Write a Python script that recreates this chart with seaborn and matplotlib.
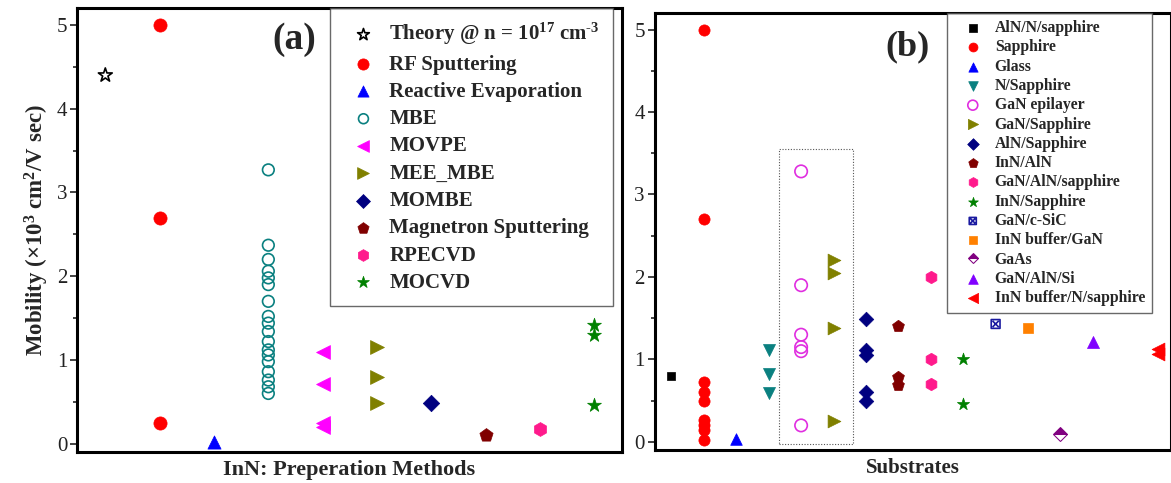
import numpy as np
import pandas as pd
import seaborn as sns
import matplotlib
matplotlib.use("Agg")
import matplotlib.pyplot as plt
from matplotlib.path import Path
from matplotlib.patches import Rectangle

# ---------------- data: panel (a) ----------------
methods = ["Theory @ n = 10$^{17}$ cm$^{\\text{-}3}$", "RF Sputtering", "Reactive Evaporation",
           "MBE", "MOVPE", "MEE_MBE", "MOMBE", "Magnetron Sputtering", "RPECVD", "MOCVD"]
method_pos = [1, 2, 3, 4, 5, 6, 7, 8, 9, 10]
theory = [4.4]
rf_sputtering = [5.0, 2.7, 0.25]
reactive_evap = [0.02]
mbe = [3.27, 2.37, 2.2, 2.06, 1.98, 1.9, 1.7, 1.52, 1.44, 1.34, 1.22, 1.12, 1.06,
       0.98, 0.86, 0.76, 0.68, 0.6]
movpe = [1.1, 0.71, 0.25, 0.2]
mee_mbe = [1.15, 0.8, 0.49]
mombe = [0.49]
magnetron = [0.1]
rpecvd = [0.18]
mocvd = [1.42, 1.3, 0.46]
a_values = [theory, rf_sputtering, reactive_evap, mbe, movpe, mee_mbe, mombe,
            magnetron, rpecvd, mocvd]

# ---------------- data: panel (b) ----------------
substrates = ["AlN/N/sapphire", "Sapphire", "Glass", "N/Sapphire", "GaN epilayer",
              "GaN/Sapphire", "AlN/Sapphire", "InN/AlN", "GaN/AlN/sapphire",
              "InN/Sapphire", "GaN/c-SiC", "InN buffer/GaN", "GaAs", "GaN/AlN/Si",
              "InN buffer/N/sapphire"]
substrate_pos = [1, 2, 3, 4, 5, 6, 7, 8, 9, 10, 11, 12, 13, 14, 16]
aln_n_sapphire = [0.8]
sapphire = [5.0, 2.7, 0.73, 0.6, 0.5, 0.26, 0.2, 0.15, 0.02]
glass = [0.03]
n_sapphire = [1.12, 0.82, 0.59]
gan_epilayer = [3.28, 1.9, 1.3, 1.15, 1.1, 0.2]
gan_sapphire = [2.2, 2.05, 1.38, 0.25]
aln_sapphire = [1.49, 1.11, 1.05, 0.61, 0.49]
inn_aln = [1.4, 0.79, 0.69]
gan_aln_sapphire = [2.0, 1.0, 0.7]
inn_sapphire = [1.0, 0.46]
gan_csic = [1.43]
inn_buffer_gan = [1.38]
gaas = [0.1]
gan_aln_si = [1.21]
inn_buffer_n_sapphire = [1.13, 1.07]
b_values = [aln_n_sapphire, sapphire, glass, n_sapphire, gan_epilayer, gan_sapphire,
            aln_sapphire, inn_aln, gan_aln_sapphire, inn_sapphire, gan_csic,
            inn_buffer_gan, gaas, gan_aln_si, inn_buffer_n_sapphire]
highlight_box = dict(x0=4.33, x1=6.59, y0=-0.02, y1=3.55)

# ---------------- styling ----------------
sns.set_theme(style="ticks")
plt.rcParams["font.family"] = ["Liberation Serif", "DejaVu Serif"]
plt.rcParams["mathtext.fontset"] = "custom"
plt.rcParams["mathtext.rm"] = "Liberation Serif:bold"
plt.rcParams["mathtext.bf"] = "Liberation Serif:bold"
plt.rcParams["mathtext.default"] = "regular"

# crossed-square marker
sq = [(-1, -1), (1, -1), (1, 1), (-1, 1), (-1, -1)]
verts = sq + [(-0.7, -0.7), (0.7, 0.7), (-0.7, 0.7), (0.7, -0.7)]
codes = [Path.MOVETO] + [Path.LINETO] * 3 + [Path.CLOSEPOLY] + \
        [Path.MOVETO, Path.LINETO, Path.MOVETO, Path.LINETO]
xsq = Path(verts, codes)

a_styles = [
    dict(marker="*", color="black", open=True, s=110),
    dict(marker="o", color="#ff0000", s=90),
    dict(marker="^", color="#0000ff", s=90),
    dict(marker="o", color="#0a8080", open=True, s=70),
    dict(marker="<", color="#ff00ff", s=100),
    dict(marker=">", color="#808000", s=100),
    dict(marker="D", color="#000080", s=70),
    dict(marker="p", color="#800000", s=100),
    dict(marker="h", color="#ff1a8c", s=100),
    dict(marker="*", color="#008000", s=110),
]
b_styles = [
    dict(marker="s", color="black", s=40),
    dict(marker="o", color="#ff0000", s=65),
    dict(marker="^", color="#0000ff", s=70),
    dict(marker="v", color="#0a8080", s=75),
    dict(marker="o", color="#e02ee0", open=True, s=80),
    dict(marker=">", color="#808000", s=85),
    dict(marker="D", color="#000080", s=55),
    dict(marker="p", color="#800000", s=80),
    dict(marker="h", color="#ff1a8c", s=80),
    dict(marker="*", color="#008000", s=85),
    dict(marker=xsq, color="#1a1aa0", open=True, s=40),
    dict(marker="s", color="#ff8000", s=55),
    dict(marker="gaas", color="#800080", s=55),
    dict(marker="^", color="#8000ff", s=75),
    dict(marker="<", color="#ff0000", s=85),
]

fig = plt.figure(figsize=(11.71, 4.83), dpi=100)
axa = fig.add_axes([0.0658, 0.064, 0.465, 0.919])
axb = fig.add_axes([0.559, 0.068, 0.441, 0.905])


def draw(ax, labels, positions, values, styles):
    for lab, pos, vals, st in zip(labels, positions, values, styles):
        df = pd.DataFrame({"x": [pos] * len(vals), "y": vals})
        if st["marker"] == "gaas":
            sns.lineplot(data=df, x="x", y="y", ax=ax, estimator=None, sort=False,
                         linestyle="", marker="D", markersize=7, fillstyle="top",
                         color=st["color"], markerfacecoloralt="white",
                         markeredgecolor=st["color"], label=lab)
            continue
        if st.get("open"):
            sns.scatterplot(data=df, x="x", y="y", ax=ax, marker=st["marker"],
                            s=st["s"], facecolor="none", edgecolor=st["color"],
                            linewidth=1.2, label=lab)
        else:
            sns.scatterplot(data=df, x="x", y="y", ax=ax, marker=st["marker"],
                            s=st["s"], color=st["color"], edgecolor=st["color"],
                            linewidth=0.5, label=lab)


draw(axa, methods, method_pos, a_values, a_styles)
draw(axb, substrates, substrate_pos, b_values, b_styles)

axb.add_patch(Rectangle((highlight_box["x0"], highlight_box["y0"]),
                        highlight_box["x1"] - highlight_box["x0"],
                        highlight_box["y1"] - highlight_box["y0"],
                        fill=False, linestyle=(0, (1, 1.5)), edgecolor="#555555",
                        linewidth=0.8, zorder=1))

for ax, xlim in ((axa, (0.48, 10.5)), (axb, (0.48, 16.41))):
    ax.set_xlim(*xlim)
    ax.set_ylim(-0.1, 5.2)
    ax.set_xticks([])
    ax.set_yticks([0, 1, 2, 3, 4, 5])
    ax.set_yticks(np.arange(0.5, 5.0, 1.0), minor=True)
    ax.tick_params(axis="y", which="major", direction="out", length=5, width=1.2,
                   labelsize=15, pad=2, colors="#222222")
    ax.tick_params(axis="y", which="minor", direction="out", length=3, width=1.2)
    for sp in ax.spines.values():
        sp.set_visible(True)
        sp.set_linewidth(2.2)
        sp.set_color("black")
    ax.set_ylabel("")

axa.set_xlabel("InN: Preperation Methods", fontsize=16, fontweight="bold", labelpad=6)
axb.set_xlabel("Substrates", fontsize=15, fontweight="bold", labelpad=6)
axa.set_ylabel("Mobility (\u00d710$^{3}$ cm$^{2}$/V sec)", fontsize=16.5,
               fontweight="bold", labelpad=4)

axa.text(0.358, 0.97, "(a)", transform=axa.transAxes, fontsize=27,
         fontweight="bold", ha="left", va="top")
axb.text(0.447, 0.96, "(b)", transform=axb.transAxes, fontsize=26,
         fontweight="bold", ha="left", va="top")

lega = axa.legend(loc="upper left", bbox_to_anchor=(0.464, 1.0), borderaxespad=0,
                  frameon=True, fancybox=False, edgecolor="#444444",
                  prop=dict(family="Liberation Serif", weight="bold", size=15),
                  labelspacing=0.35, handlelength=2.0, handletextpad=0.25,
                  borderpad=0.62, markerscale=0.85)
lega.get_frame().set_linewidth(1.0)

legb = axb.legend(loc="upper left", bbox_to_anchor=(0.566, 1.0), borderaxespad=0,
                  frameon=True, fancybox=False, edgecolor="#444444",
                  prop=dict(family="Liberation Serif", weight="bold", size=11.3),
                  labelspacing=0.21, handlelength=2.4, handletextpad=0.2,
                  borderpad=0.45, markerscale=0.8)
legb.get_frame().set_linewidth(1.0)

fig.savefig("out.png", dpi=100)
